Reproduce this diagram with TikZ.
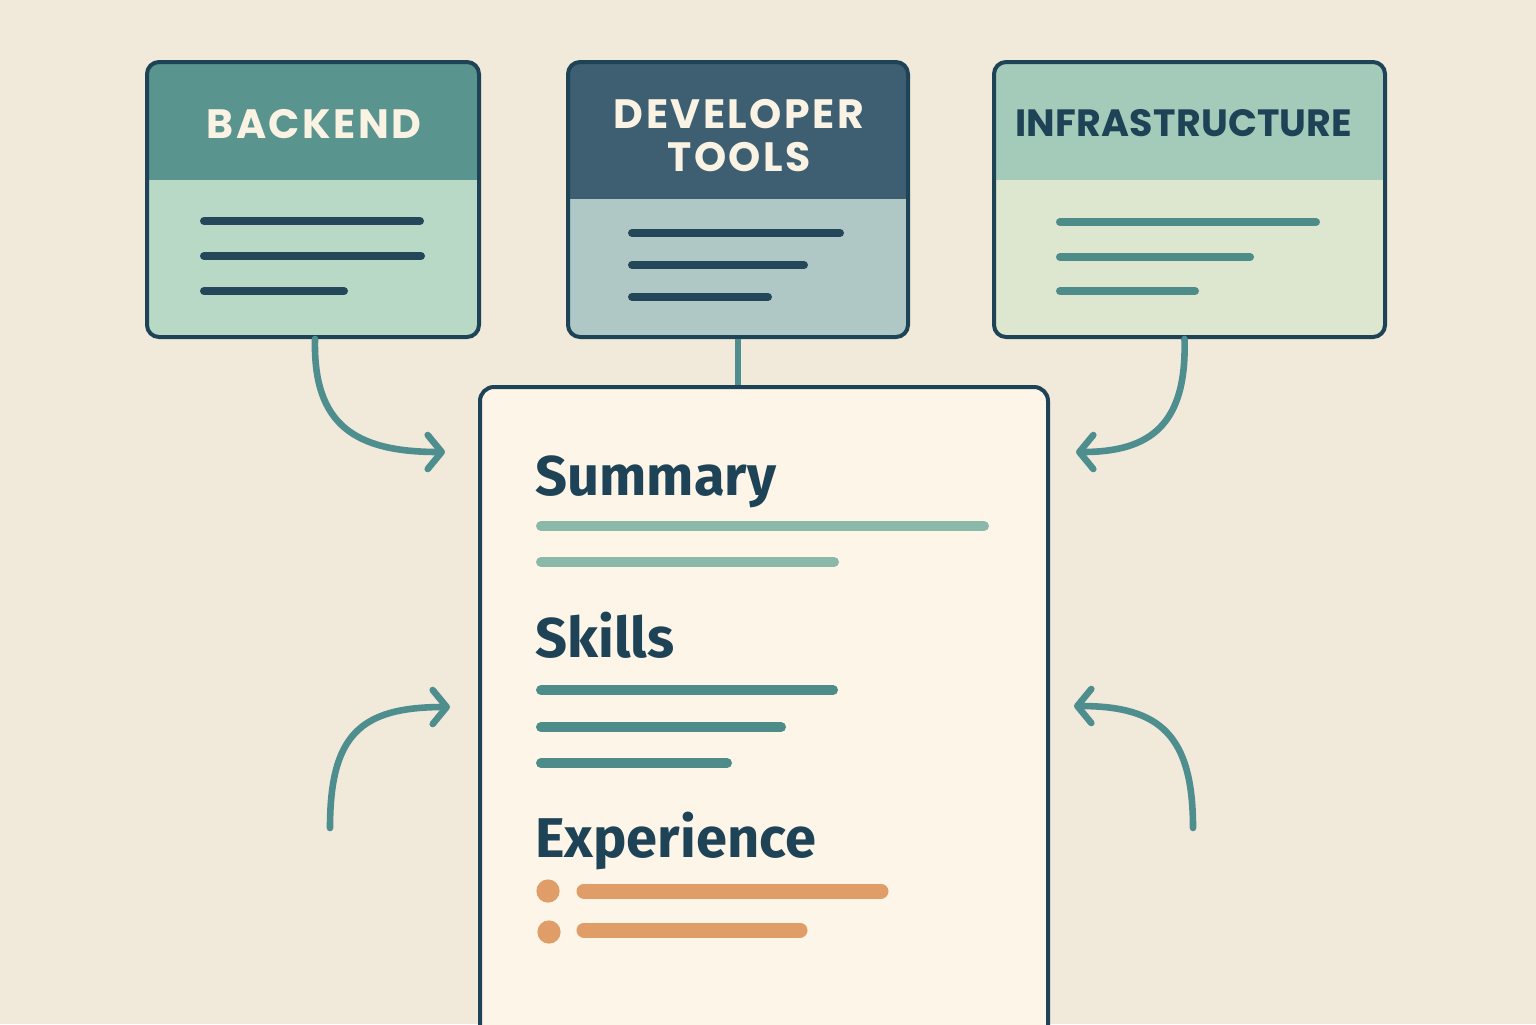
\documentclass[tikz,border=0pt]{standalone}
\usepackage{fontspec}
\setmainfont{Poppins}
\newfontfamily\headfont{Poppins}[LetterSpace=6]
\newfontfamily\infrafont{Poppins}[LetterSpace=0.5]
\newfontfamily\secfont{Fira Sans}
\usetikzlibrary{arrows.meta,calc}
\definecolor{bg}{HTML}{F1EADB}
\definecolor{navy}{HTML}{1F4356}
\definecolor{tealhead}{HTML}{5A948F}
\definecolor{backbody}{HTML}{B9D9C7}
\definecolor{devhead}{HTML}{3E5E72}
\definecolor{devbody}{HTML}{AFC8C6}
\definecolor{infrahead}{HTML}{A4CAB9}
\definecolor{infrabody}{HTML}{DDE6CF}
\definecolor{linedark}{HTML}{25475A}
\definecolor{lineteal}{HTML}{4E8C8A}
\definecolor{lightteal}{HTML}{8BB9A9}
\definecolor{orange}{HTML}{E09D68}
\definecolor{cardfill}{HTML}{FCF5E8}
\definecolor{arrowteal}{HTML}{4F8E8E}
\definecolor{cream}{HTML}{FAF3E3}
\tikzset{
  catbox/.style={draw=navy, line width=2pt, rounded corners=6pt, anchor=north west, inner sep=0pt},
  bar/.style={line width=4pt, line cap=round},
  sbar/.style={line width=5pt, line cap=round},
  headtxt/.style={font=\headfont\bfseries\fontsize{20.5}{21.5}\selectfont, align=center, inner sep=0pt},
  sectxt/.style={font=\secfont\bfseries\fontsize{28}{30}\selectfont, anchor=base west, inner sep=0pt, text=navy},
  flow/.style={draw=arrowteal, line width=3.3pt, line cap=round, -{Straight Barb[length=7pt,width=17pt,line cap=round,line join=round]}},
}
\begin{document}
\begin{tikzpicture}[x=0.5pt,y=-0.5pt]
\useasboundingbox (0,0) rectangle (1536,1024);
\fill[bg] (0,0) rectangle (1536,1024);

% Category boxes
\node[catbox, fill=backbody, minimum width=166pt, minimum height=137.5pt,
  path picture={\fill[tealhead, sharp corners] (path picture bounding box.north west) rectangle ([yshift=-59pt]path picture bounding box.north east);}] (backend) at (145,60) {};
\node[catbox, fill=devbody, minimum width=170pt, minimum height=137.5pt,
  path picture={\fill[devhead, sharp corners] (path picture bounding box.north west) rectangle ([yshift=-68.5pt]path picture bounding box.north east);}] (devtools) at (566,60) {};
\node[catbox, fill=infrabody, minimum width=195.5pt, minimum height=137.5pt,
  path picture={\fill[infrahead, sharp corners] (path picture bounding box.north west) rectangle ([yshift=-59pt]path picture bounding box.north east);}] (infra) at (992,60) {};

\node[headtxt, text=cream] (backendlbl) at (314,124) {BACKEND};
\node[headtxt, text=cream] (devlbl) at (739,136) {DEVELOPER\\TOOLS};
\node[headtxt, text=navy, font=\infrafont\bfseries\fontsize{19}{21}\selectfont] (infralbl) at (1184,123) {INFRASTRUCTURE};

% box lines
\draw[bar, linedark] (204,221) -- (420,221);
\draw[bar, linedark] (204,256) -- (421,256);
\draw[bar, linedark] (204,291) -- (344,291);
\draw[bar, linedark] (632,233) -- (840,233);
\draw[bar, linedark] (632,265) -- (804,265);
\draw[bar, linedark] (632,297) -- (768,297);
\draw[bar, lineteal] (1060,222) -- (1316,222);
\draw[bar, lineteal] (1060,257) -- (1250,257);
\draw[bar, lineteal] (1060,291) -- (1195,291);

% Main card
\node[draw=navy, line width=2pt, fill=cardfill, rounded corners=7pt, anchor=north west, inner sep=0pt,
  minimum width=284pt, minimum height=360pt] (card) at (478,385) {};

\node[sectxt] (summary) at (535,495) {Summary};
\draw[sbar, lightteal] (541,526) -- (984,526);
\draw[sbar, lightteal] (541,562) -- (834,562);
\node[sectxt] (skills) at (535,657) {Skills};
\draw[sbar, lineteal] (541,690) -- (833,690);
\draw[sbar, lineteal] (541,727) -- (781,727);
\draw[sbar, lineteal] (541,763) -- (727,763);
\node[sectxt] (experience) at (535,857) {Experience};
\fill[orange] (548,891) circle (5.8pt);
\fill[orange] (549,932) circle (5.8pt);
\draw[line width=7.5pt, line cap=round, orange] (584,891) -- (881,891);
\draw[line width=7.5pt, line cap=round, orange] (584,930) -- (800,930);

% connectors
\coordinate (inTL) at (445,452);
\coordinate (inTR) at (1076,452);
\coordinate (srcBL) at (330,828);
\coordinate (inBL) at (450,707);
\coordinate (srcBR) at (1193,828);
\coordinate (inBR) at (1074,706);
\draw[draw=arrowteal, line width=3pt] (devtools.south) -- (card.north -| devtools.south);
\draw[flow] ([xshift=1pt]backend.south) .. controls (313,425) and (355,452) .. (inTL);
\draw[flow] ([xshift=-2.5pt]infra.south) .. controls (1187,425) and (1150,452) .. (inTR);
\draw[flow] (srcBL) .. controls (330,735) and (360,707) .. (inBL);
\draw[flow] (srcBR) .. controls (1193,735) and (1160,706) .. (inBR);
\end{tikzpicture}
\end{document}
